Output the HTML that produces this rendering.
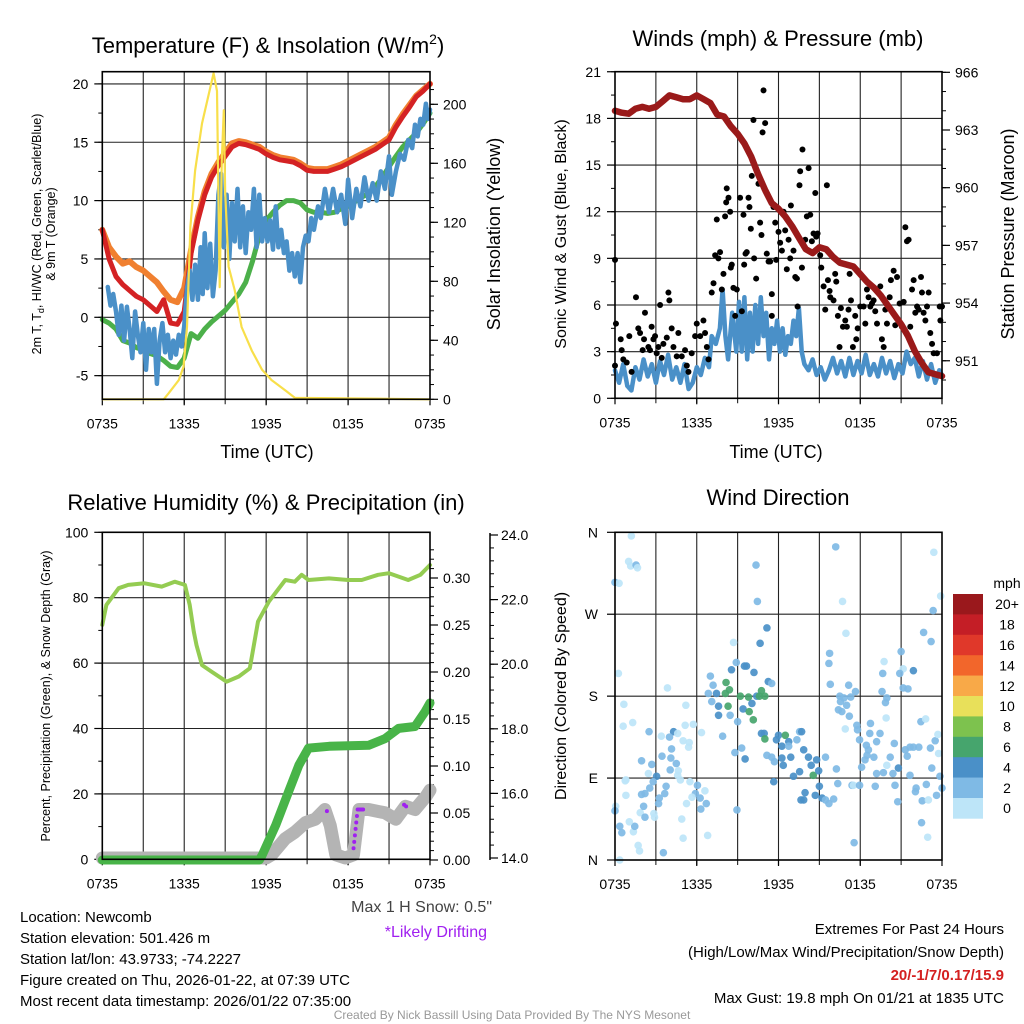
<!DOCTYPE html>
<html><head><meta charset="utf-8"><title>Newcomb Meteogram</title>
<style>
html,body{margin:0;padding:0;background:#fff;}
svg{display:block;font-family:"Liberation Sans",Arial,sans-serif;}
</style></head>
<body>
<svg id="fig" xmlns="http://www.w3.org/2000/svg" width="1024" height="1024" viewBox="0 0 1024 1024">
<rect x="0" y="0" width="1024" height="1024" fill="#fff"/>
<text x="268" y="53" font-size="22" text-anchor="middle">Temperature (F) &amp; Insolation (W/m<tspan dy="-9" font-size="14">2</tspan><tspan dy="9">)</tspan></text>
<text x="778" y="46" font-size="22" text-anchor="middle">Winds (mph) &amp; Pressure (mb)</text>
<text x="266" y="510" font-size="22" text-anchor="middle">Relative Humidity (%) &amp; Precipitation (in)</text>
<text x="778" y="505" font-size="22" text-anchor="middle">Wind Direction</text>
<text x="267" y="458" font-size="18" text-anchor="middle">Time (UTC)</text>
<text x="776" y="458" font-size="18" text-anchor="middle">Time (UTC)</text>
<text transform="translate(41,234) rotate(-90)" font-size="12.5" text-anchor="middle">2m T, T<tspan font-size="9" dy="3">d</tspan><tspan dy="-3">, HI/WC (Red, Green, Scarlet/Blue)</tspan></text>
<text transform="translate(55,234) rotate(-90)" font-size="12.5" text-anchor="middle">&amp; 9m T (Orange)</text>
<text transform="translate(500,234) rotate(-90)" font-size="18" text-anchor="middle">Solar Insolation (Yellow)</text>
<text transform="translate(566,234) rotate(-90)" font-size="16" text-anchor="middle">Sonic Wind &amp; Gust (Blue, Black)</text>
<text transform="translate(1014,234) rotate(-90)" font-size="18" text-anchor="middle">Station Pressure (Maroon)</text>
<text transform="translate(50,696) rotate(-90)" font-size="12.5" text-anchor="middle">Percent, Precipitation (Green), &amp; Snow Depth (Gray)</text>
<text transform="translate(566,696) rotate(-90)" font-size="16" text-anchor="middle">Direction (Colored By Speed)</text>
<text x="492" y="912" font-size="16" fill="#444" text-anchor="end">Max 1 H Snow: 0.5"</text>
<text x="487" y="937" font-size="16" fill="#a020f0" text-anchor="end">*Likely Drifting</text>
<g font-size="15">
<text x="20" y="922">Location: Newcomb</text>
<text x="20" y="943">Station elevation: 501.426 m</text>
<text x="20" y="964">Station lat/lon: 43.9733; -74.2227</text>
<text x="20" y="985">Figure created on Thu, 2026-01-22, at 07:39 UTC</text>
<text x="20" y="1006">Most recent data timestamp: 2026/01/22 07:35:00</text>
</g>
<g font-size="15" text-anchor="end">
<text x="1004" y="934">Extremes For Past 24 Hours</text>
<text x="1004" y="957">(High/Low/Max Wind/Precipitation/Snow Depth)</text>
<text x="1004" y="980" fill="#d42020" font-weight="bold">20/-1/7/0.17/15.9</text>
<text x="1004" y="1003">Max Gust: 19.8 mph On 01/21 at 1835 UTC</text>
</g>
<text x="512" y="1019" font-size="12" fill="#999" text-anchor="middle">Created By Nick Bassill Using Data Provided By The NYS Mesonet</text>
</svg>
<script>
const xTickLabels = ["0735","1335","1935","0135","0735"];
const xTickHours = [0,6,12,18,24];
const temp2m = [7.5,5.0,3.5,2.8,2.3,1.8,1.5,1.0,0.5,1.5,-0.5,-0.6,0.5,5.5,8.3,10.5,12.0,13.0,13.8,14.6,14.9,14.8,14.6,14.4,14.0,13.7,13.5,13.4,13.3,13.0,12.6,12.5,12.5,12.5,12.7,12.9,13.2,13.5,13.8,14.1,14.4,14.8,15.2,16.3,17.2,18.0,18.9,19.4,20.0];
const temp9m = [7.5,6.0,5.2,4.6,4.8,4.3,4.0,3.5,3.0,2.2,1.5,1.3,2.5,5.8,8.6,10.8,12.3,13.3,14.1,14.9,15.1,15.0,14.8,14.6,14.2,13.9,13.7,13.6,13.5,13.2,12.8,12.7,12.7,12.7,12.9,13.1,13.4,13.7,14.0,14.3,14.6,15.0,15.4,16.5,17.4,18.2,19.0,19.5,20.0];
const dewpoint = [-0.2,-0.5,-1.0,-2.0,-2.2,-2.6,-2.8,-3.1,-3.3,-3.7,-4.2,-4.3,-3.5,-1.4,-1.8,-1.0,-0.4,0.1,0.6,1.3,2.0,3.0,4.8,7.0,8.3,9.0,9.6,10.0,10.0,9.8,9.2,9.0,9.0,8.9,9.0,9.3,9.5,9.9,10.3,10.6,11.2,12.0,12.9,13.8,14.6,15.2,15.8,16.6,17.5];
const chillT = [0.4,0.6,0.8,1.0,1.2,1.4,1.6,1.8,2.0,2.2,2.4,2.6,2.8,3.0,3.2,3.4,3.6,3.8,4.0,4.2,4.4,4.6,4.8,5.0,5.2,5.4,5.6,5.8,6.0,6.2,6.4,6.6,6.8,7.0,7.2,7.35,7.5,7.7,7.9,8.1,8.3,8.5,8.7,8.9,9.1,9.3,9.5,9.7,9.9,10.1,10.3,10.5,10.7,10.9,11.1,11.3,11.5,11.7,11.9,12.1,12.3,12.5,12.7,12.9,13.1,13.3,13.5,13.7,13.9,14.1,14.3,14.5,14.7,14.9,15.1,15.3,15.5,15.8,16.0,16.3,16.6,16.9,17.2,17.5,17.8,18.0,18.3,18.6,18.9,19.2,19.5,19.8,20.1,20.4,20.7,21.0,21.2,21.5,21.8,22.1,22.4,22.7,22.9,23.1,23.3,23.5,23.7,23.85,24];
const chillV = [2.6,1.0,2.0,0.5,-1.5,1.0,-2.0,0.9,-1.0,-3.5,0.5,-1.5,-3.0,-0.5,-4.5,-1.0,-3.0,-1.0,-5.7,-2.0,-0.5,-3.0,-1.5,-3.5,-2.0,-3.2,-1.5,-2.5,-0.8,2.5,4.0,1.5,4.5,1.5,6.0,2.0,7.2,2.5,6.3,1.8,4.0,10.5,12.3,6.0,10.5,5.0,9.8,6.5,11.0,6.0,9.5,5.5,9.0,7.5,11.0,6.0,10.5,6.5,8.5,6.5,8.3,5.8,9.5,6.0,7.5,5.5,6.5,4.0,5.5,3.5,5.5,3.0,6.0,7.0,6.5,8.5,7.5,9.5,8.5,11.0,9.0,11.0,9.0,10.5,8.0,11.8,8.5,11.0,9.5,12.0,10.0,11.5,10.0,12.5,11.0,13.8,10.5,12.5,14.0,13.5,15.2,14.5,16.5,15.5,17.0,16.5,18.3,17.0,17.8];
const solT = [0,4.5,4.85,5.6,5.95,6.2,6.45,6.8,7.3,7.8,8.15,8.4,8.5,8.6,8.75,8.9,9.0,9.25,9.7,10.2,10.95,11.7,12.4,13.4,14.1,24];
const solV = [0,0,4,13,22,49,117,155,187,207,221,209,140,76,162,196,140,90,74,49,33,20,13,6,1,0];
const tempTicks = [-5,0,5,10,15,20];
const solTicks = [0,40,80,120,160,200];
const windT = [0,0.3,0.6,0.9,1.2,1.5,1.8,2.1,2.4,2.7,3.0,3.3,3.6,3.9,4.2,4.5,4.8,5.1,5.4,5.7,6.0,6.3,6.6,6.9,7.1,7.4,7.7,7.9,8.1,8.3,8.6,8.9,9.1,9.3,9.5,9.7,9.9,10.1,10.3,10.5,10.7,10.9,11.1,11.3,11.5,11.7,11.9,12.1,12.3,12.5,12.7,12.9,13.1,13.3,13.5,13.7,13.9,14.2,14.5,14.8,15.1,15.4,15.7,16.0,16.3,16.6,16.9,17.2,17.5,17.8,18.1,18.4,18.7,19.0,19.3,19.6,19.9,20.2,20.5,20.8,21.1,21.4,21.7,22.0,22.3,22.6,22.9,23.2,23.5,23.8,24.0];
const windV = [1.8,1.0,2.2,0.8,0.5,2.0,1.2,2.5,1.4,2.2,1.0,2.4,1.5,2.8,1.2,2.0,1.0,2.2,0.6,1.0,2.0,1.5,2.6,2.0,4.0,3.5,4.5,7.0,4.0,2.5,5.5,3.0,6.2,3.0,6.5,2.5,5.5,3.0,6.0,3.5,6.5,4.0,5.5,2.5,4.5,3.5,5.0,3.0,4.5,2.8,4.0,3.5,5.0,4.0,5.8,3.0,2.2,1.8,2.5,1.5,2.0,1.2,1.8,2.6,1.6,2.4,1.4,2.6,1.5,2.4,1.6,2.8,1.5,2.2,1.4,2.6,1.6,2.4,1.3,2.2,1.6,3.0,2.2,2.6,1.4,2.4,1.2,2.2,1.0,1.8,1.5];
const pressure = [964.0,963.9,963.85,964.1,964.2,964.1,964.2,964.5,964.8,964.7,964.6,964.6,964.8,964.6,964.4,963.8,963.7,963.2,962.8,962.3,961.6,960.7,959.9,959.2,958.9,958.5,958.0,957.4,956.8,956.6,956.9,956.8,956.4,956.1,956.0,955.9,955.5,955.1,954.8,954.4,953.9,953.4,952.9,952.3,951.5,950.9,950.4,950.3,950.2];
const gustT = [0,0.07,0,0.42,0.49,0.61,0.86,1.05,1.22,1.54,1.71,1.84,2.03,2.13,2.2,2.45,2.57,2.69,2.82,2.94,3.06,3.18,3.31,3.43,3.55,3.8,3.92,3.99,4.16,4.29,4.53,4.65,4.9,5.14,5.27,5.39,5.63,5.88,6.0,6.25,6.49,6.61,6.74,6.86,7.1,7.23,7.35,7.47,7.59,7.71,7.84,7.96,8.08,8.16,8.2,8.33,8.45,8.5,8.57,8.69,8.82,8.94,9.18,9.31,9.43,9.48,9.58,9.67,9.8,9.87,9.97,10.04,10.16,10.21,10.36,10.53,10.65,10.75,10.83,10.9,11.02,11.14,11.27,11.39,11.51,11.51,11.63,11.76,11.83,12.0,12.12,12.25,12.37,12.49,12.61,12.74,12.86,12.91,13.1,13.23,13.35,13.4,13.54,13.59,13.72,13.76,13.96,14.08,14.21,14.33,14.45,14.57,14.7,14.77,14.87,15.06,15.14,15.31,15.43,15.55,15.63,15.75,15.8,16.04,16.16,16.24,16.36,16.48,16.58,16.73,16.9,17.02,17.14,17.22,17.32,17.46,17.63,17.71,17.81,18.0,18.25,18.37,18.49,18.61,18.74,18.86,18.98,19.1,19.23,19.47,19.59,19.72,19.84,19.96,20.16,20.25,20.45,20.57,20.7,20.89,21.06,21.19,21.31,21.43,21.55,21.67,21.8,21.92,22.04,22.17,22.29,22.46,22.53,22.65,22.78,22.9,23.02,23.14,23.27,23.39,23.63,23.83,23.88,24.0];
const gustV = [8.9,4.8,2.1,3.8,3.1,2.5,2.3,4.0,1.7,6.5,4.5,4.2,3.1,3.8,5.5,3.3,3.1,4.6,3.8,4.0,2.9,3.3,6.0,2.6,3.5,3.9,6.8,6.3,4.5,3.3,2.7,4.2,2.7,3.1,2.1,1.7,2.9,4.0,4.8,4.0,5.0,4.2,3.3,2.5,6.8,7.4,9.2,11.5,9.0,9.4,7.0,8.0,11.7,12.6,13.5,12.9,12.0,8.4,8.6,7.1,5.3,7.0,12.9,5.6,11.8,8.6,9.3,9.4,12.9,12.3,10.9,14.3,17.9,9.0,7.7,13.8,11.3,10.5,17.1,19.8,17.7,9.3,8.8,8.8,6.7,5.3,12.3,11.3,8.9,10.7,10.0,9.5,12.0,10.8,8.3,10.2,9.0,12.4,9.5,7.8,7.7,5.9,13.7,14.6,8.4,16.0,10.2,11.7,14.8,11.8,10.1,10.6,13.2,10.4,10.6,9.2,8.4,7.2,5.7,13.7,7.6,6.9,6.5,6.3,8.0,7.5,5.3,3.3,5.8,4.6,5.0,4.6,5.7,8.0,6.3,3.3,5.3,3.8,4.5,5.9,5.9,4.8,7.0,6.5,5.9,6.1,6.3,5.6,4.8,7.2,3.8,3.3,5.7,4.8,6.5,7.6,8.2,4.7,7.8,6.1,4.6,6.2,11.0,10.1,10.2,4.6,7.0,7.6,5.5,5.9,5.7,7.8,6.8,5.5,5.0,5.9,6.8,4.2,3.5,2.9,2.9,5.9,5.0,5.9];
const windTicks = [0,3,6,9,12,15,18,21];
const presTicks = [951,954,957,960,963,966];
const rhT = [0,0.3,1.2,1.9,3.1,4.35,5.3,6.05,6.4,6.7,6.9,7.3,8.0,9.1,10.0,10.8,11.4,12.2,13.4,14.1,14.6,15.1,16.6,18.0,19.0,20.2,21.0,22.4,23.3,24];
const rhV = [71.7,77.8,82.9,83.9,84.4,83.4,84.9,83.9,77.8,69.6,65.5,59.4,57.4,54.3,55.9,58.4,72.7,78.8,85.4,84.9,87,85.4,85.9,85.4,85.4,87,87.5,85.4,87,90];
const precipT = [0,11.5,11.7,12.7,13.65,14.4,15.1,16.6,19.5,20.7,21.7,22.9,23.65,24];
const precipV = [0,0,0.005,0.037,0.073,0.101,0.119,0.121,0.122,0.129,0.14,0.142,0.158,0.167];
const snowT = [0,12.0,12.4,13.4,14.1,14.9,15.6,16.3,16.7,17.1,17.8,18.4,18.8,19.5,20.7,21.5,22.2,22.9,23.7,24];
const snowV = [14.0,14.0,14.1,14.6,14.8,15.1,15.2,15.5,15.0,14.1,14.0,14.1,15.5,15.5,15.4,15.2,15.6,15.5,15.9,16.1];
const driftT = [16.45,18.4,18.45,18.5,18.55,18.6,18.65,18.7,18.8,18.9,19.0,19.1,22.1,22.25];
const driftV = [15.45,14.3,14.5,14.7,14.9,15.1,15.3,15.5,15.5,15.5,15.5,15.5,15.65,15.6];
const rhTicks = [0,20,40,60,80,100];
const precipTicks = [0,0.05,0.10,0.15,0.20,0.25,0.30];
const precipTickLabels = ["0.00","0.05","0.10","0.15","0.20","0.25","0.30"];
const snowTicks = [14,16,18,20,22,24];
const snowTickLabels = ["14.0","16.0","18.0","20.0","22.0","24.0"];
const dirT = [1.2,1.0,1.15,1.55,1.65,0,0.3,10.35,16.2,23.4,10.45,16.7,23.9,23.35,11.15,16.95,22.65,23.2,8.7,10.65,15.75,15.7,21.0,19.75,21.15,21.9,19.65,20.9,8.9,9.5,9.65,8.55,10.2,0.25,7.0,7.2,11.25,11.5,8.15,8.4,15.8,17.15,21.15,21.5,3.85,6.85,7.45,8.1,9.2,9.8,10.4,10.6,11.0,10.75,17.65,19.6,16.5,16.8,17.3,19.95,7.1,7.6,8.3,9.4,10.05,9.85,19.85,16.55,0.65,5.2,17.0,16.4,16.65,7.6,8.45,9.0,10.15,17.2,19.9,22.45,22.8,1.3,0.6,5.15,5.75,2.5,4.3,3.4,4.0,4.6,5.0,5.45,5.4,6.35,7.9,10.75,10.95,11.0,12.0,12.5,11.85,12.75,12.25,13.55,13.7,13.35,12.75,16.9,17.75,18.75,17.8,18.7,19.45,17.95,18.45,19.2,20.5,21.3,21.9,21.65,22.3,23.15,23.5,23.7,23.75,1.95,2.7,4.15,4.1,4.5,4.05,4.65,4.6,3.05,2.45,0.75,2.8,2.55,2.2,1.95,1.85,2.1,2.2,2.85,2.9,3.25,3.2,3.75,3.65,4.8,5.5,6.05,5.9,6.25,5.65,5.25,6.6,6.7,6.3,8.8,9.3,9.55,8.95,11.65,11.15,11.5,11.7,12.25,12.35,12.9,13.1,13.55,13.85,14.2,14.4,14.55,14.8,14.95,15.0,14.7,13.95,13.85,13.65,15.2,15.45,15.45,15.7,16.05,16.25,16.35,17.4,17.5,17.95,18.1,18.35,18.5,18.6,19.0,19.1,19.2,19.7,19.95,20.2,20.4,20.55,20.75,20.8,21.45,21.65,22.05,22.1,22.55,22.85,23.0,23.25,23.6,23.85,24.0,22.5,22.95,17.55,3.55,0.35,0.05,0,0.35,0.5,1.35,1.45,1.05,0.8,0.8,1.7,1.8,4.9,5.0,6.8,3.45];
const dirDeg = [356,328,323,324,321,305,304,324,344,338,284,284,290,274,255,249,250,240,239,238,227,216,229,218,210,208,205,205,217,213,213,209,206,205,202,192,196,194,195,187,193,192,189,188,189,183,183,183,180,179,180,180,180,186,185,185,180,178,179,178,174,169,169,166,172,163,173,174,171,170,170,165,163,159,159,152,154,158,156,152,155,151,147,148,149,141,141,136,135,139,131,129,124,140,136,139,139,133,137,137,132,130,125,141,141,132,125,144,148,150,143,139,139,132,126,130,128,121,124,124,124,123,131,138,117,109,105,122,112,106,99,98,93,92,95,87,86,79,73,72,52,59,47,51,47,68,62,81,73,88,86,82,73,68,69,62,76,62,56,118,123,111,55,86,115,113,108,112,104,113,92,97,121,113,104,93,110,98,81,71,74,66,66,68,113,66,62,67,100,84,82,82,82,102,110,115,121,113,81,95,96,104,113,95,82,64,101,114,93,75,79,65,83,66,101,71,92,79,41,25,19,8,0,59,54,37,30,31,37,42,71,88,16,10,45,24,27,114];
const dirSpd = [1,1,1,3,1,3,1,3,3,1,3,1,1,3,5,1,3,3,1,5,3,3,3,1,1,5,3,3,3,5,5,5,5,1,3,3,5,3,7,7,3,3,3,3,1,3,5,7,7,7,5,7,7,7,3,3,3,3,3,3,3,5,7,5,5,7,3,3,1,1,3,3,3,5,3,3,7,3,1,3,1,1,1,1,1,3,5,1,3,1,1,1,1,1,3,5,5,7,5,7,5,5,5,3,5,3,3,1,3,3,3,3,3,3,3,3,3,3,3,3,3,3,3,1,1,3,3,3,3,3,3,1,1,5,1,1,3,3,3,3,1,3,3,1,1,3,3,3,3,1,1,3,3,3,1,1,1,3,3,3,3,5,3,5,3,3,3,5,5,5,5,5,5,5,5,7,5,5,5,5,5,5,5,5,3,3,3,3,3,3,3,1,3,3,3,3,3,3,3,3,3,1,3,3,3,3,5,3,3,3,3,3,3,1,3,3,3,3,3,1,3,3,1,1,3,3,3,1,3,1,1,1,1,1,1,1,1,3,3,3,1,3,1];
const dirTicks = [0,90,180,270,360];
const dirTickLabels = ["N","E","S","W","N"];
const cbarLabels = ["20+","18","16","14","12","10","8","6","4","2","0"];
const cbarColors = ["#9a181c","#c41e26","#e0382a","#f2662b","#f8a948","#e8e05a","#7dc24e","#46a56d","#4a90c8","#7fbae5","#bde5f8"];

const NS = "http://www.w3.org/2000/svg";
const svg = document.getElementById("fig");
function mk(tag, attrs, name, parent) {
  const el = document.createElementNS(NS, tag);
  
  
  for (const k in attrs) el.setAttribute(k, attrs[k]);
  (parent || svg).appendChild(el);
  return el;
}
function txt(x, y, s, attrs, name) {
  const el = mk("text", Object.assign({x: x, y: y, "font-size": 14}, attrs || {}), name);
  el.textContent = s;
  return el;
}
function pathD(ts, vs, xf, yf) {
  let d = "";
  for (let i = 0; i < ts.length; i++) d += (i ? "L" : "M") + xf(ts[i]).toFixed(1) + "," + yf(vs[i]).toFixed(1);
  return d;
}
function halfHours(n) { const a = []; for (let i = 0; i < n; i++) a.push(i * 0.5); return a; }
function speedColor(s) {
  if (s < 2) return "#bde5f8";
  if (s < 4) return "#7fbae5";
  if (s < 6) return "#4a90c8";
  if (s < 8) return "#46a56d";
  return "#7dc24e";
}
function frame(x0, y0, x1, y1, name) {
  mk("rect", {x: x0, y: y0, width: x1 - x0, height: y1 - y0, fill: "none", stroke: "#000", "stroke-width": 1.6}, name);
}
function vgrid(x0, x1, y0, y1, name) {
  for (let h = 3; h < 24; h += 3) {
    const x = x0 + (x1 - x0) * h / 24;
    mk("line", {x1: x, x2: x, y1: y0, y2: y1 + 5, stroke: "#222", "stroke-width": 1.1}, name + "-vgrid");
  }
  for (let i = 0; i < xTickHours.length; i++) {
    const x = x0 + (x1 - x0) * xTickHours[i] / 24;
    mk("line", {x1: x, x2: x, y1: y1, y2: y1 + 6, stroke: "#000", "stroke-width": 1.2}, name + "-x-tick");
    txt(x, y1 + 29, xTickLabels[i], {"text-anchor": "middle"}, name + "-x-tick-label");
  }
}
function hgrid(x0, x1, ys, name) {
  ys.forEach(y => mk("line", {x1: x0, x2: x1, y1: y, y2: y, stroke: "#222", "stroke-width": 1.1}, name + "-hgrid"));
}
function leftAxis(x, ticks, labels, yf, minorStep, lo, hi, name) {
  for (let v = lo; v <= hi + 1e-9; v += minorStep) mk("line", {x1: x - 4, x2: x, y1: yf(v), y2: yf(v), stroke: "#000"}, name + "-minor-tick");
  ticks.forEach((v, i) => {
    mk("line", {x1: x - 8, x2: x, y1: yf(v), y2: yf(v), stroke: "#000", "stroke-width": 1.2}, name + "-tick");
    txt(x - 14, yf(v) + 5, labels[i], {"text-anchor": "end"}, name + "-tick-label");
  });
}
function rightAxis(x, ticks, labels, yf, minorStep, lo, hi, name, gap) {
  for (let v = lo; v <= hi + 1e-9; v += minorStep) mk("line", {x1: x, x2: x + 4, y1: yf(v), y2: yf(v), stroke: "#000"}, name + "-minor-tick");
  ticks.forEach((v, i) => {
    mk("line", {x1: x, x2: x + 8, y1: yf(v), y2: yf(v), stroke: "#000", "stroke-width": 1.2}, name + "-tick");
    txt(x + (gap || 13), yf(v) + 5, labels[i], {"text-anchor": "start"}, name + "-tick-label");
  });
}

(function () {
  const X0 = 102.3, X1 = 430, Y0 = 71.7, Y1 = 399.3;
  const xs = t => X0 + t * (X1 - X0) / 24;
  const yL = v => 317.3 - v * 11.67;
  const yR = v => Y1 - v * 1.475;
  const hh = halfHours(temp2m.length);
  vgrid(X0, X1, Y0, Y1, "temperature");
  hgrid(X0, X1, tempTicks.map(yL), "temperature");
  leftAxis(X0, tempTicks, tempTicks.map(String), yL, 2.5, -5, 20, "temperature-y");
  rightAxis(X1, solTicks, solTicks.map(String), yR, 10, 0, 210, "insolation-y");
  mk("path", {d: pathD(hh, temp9m, xs, yL), fill: "none", stroke: "#f08030", "stroke-width": 6, "stroke-linejoin": "round", "stroke-linecap": "round"}, "temp-9m-line");
  mk("path", {d: pathD(hh, temp2m, xs, yL), fill: "none", stroke: "#d42224", "stroke-width": 5, "stroke-linejoin": "round", "stroke-linecap": "round"}, "temp-2m-line");
  mk("path", {d: pathD(hh, dewpoint, xs, yL), fill: "none", stroke: "#4cb04a", "stroke-width": 5, "stroke-linejoin": "round", "stroke-linecap": "round"}, "dewpoint-line");
  mk("path", {d: pathD(chillT, chillV, xs, yL), fill: "none", stroke: "#4a90c8", "stroke-width": 4.5, "stroke-linejoin": "round", "stroke-linecap": "round"}, "wind-chill-line");
  mk("path", {d: pathD(solT, solV, xs, yR), fill: "none", stroke: "#f8df4a", "stroke-width": 2.2, "stroke-linejoin": "round"}, "insolation-line");
  frame(X0, Y0, X1, Y1, "temperature-plot-frame");
})();

(function () {
  const X0 = 615, X1 = 942, Y0 = 71.7, Y1 = 398.3;
  const xs = t => X0 + t * (X1 - X0) / 24;
  const yW = v => Y1 - v * 15.55;
  const yP = p => 130 - (p - 963) * 19.23;
  vgrid(X0, X1, Y0, Y1, "winds");
  hgrid(X0, X1, windTicks.map(yW), "winds");
  leftAxis(X0, windTicks, windTicks.map(String), yW, 1.5, 0, 21, "wind-y");
  rightAxis(X1, presTicks, presTicks.map(String), yP, 1, 950, 966, "pressure-y");
  mk("path", {d: pathD(windT, windV, xs, yW), fill: "none", stroke: "#4a90c8", "stroke-width": 4.5, "stroke-linejoin": "round", "stroke-linecap": "round"}, "wind-speed-line");
  for (let i = 0; i < gustT.length; i++) {
    mk("circle", {cx: xs(gustT[i]), cy: yW(gustV[i]), r: 3, fill: "#000"}, "wind-gust-point");
  }
  mk("path", {d: pathD(halfHours(pressure.length), pressure, xs, yP), fill: "none", stroke: "#9a1a1a", "stroke-width": 6.5, "stroke-linejoin": "round", "stroke-linecap": "round"}, "pressure-line");
  frame(X0, Y0, X1, Y1, "winds-plot-frame");
})();

(function () {
  const X0 = 102.3, X1 = 430, Y0 = 532.3, Y1 = 859.3;
  const xs = t => X0 + t * (X1 - X0) / 24;
  const yL = v => Y1 - v * 3.27;
  const yP = v => 860 - v * 940;
  const yS = v => 858 - (v - 14) * 32.3;
  vgrid(X0, X1, Y0, Y1, "humidity");
  hgrid(X0, X1, rhTicks.map(yL), "humidity");
  leftAxis(X0, rhTicks, rhTicks.map(String), yL, 10, 0, 100, "humidity-y");
  rightAxis(X1, precipTicks, precipTickLabels, yP, 0.01, 0, 0.33, "precip-y", 13);
  mk("line", {x1: 490, x2: 490, y1: 533, y2: 860, stroke: "#000", "stroke-width": 1.5}, "snow-axis-line");
  rightAxis(490, snowTicks, snowTickLabels, yS, 0.4, 14, 24, "snow-y", 11);
  mk("path", {d: pathD(snowT, snowV, xs, yS), fill: "none", stroke: "#b4b4b4", "stroke-width": 13, "stroke-linejoin": "round", "stroke-linecap": "round"}, "snow-depth-line");
  mk("path", {d: pathD(precipT, precipV, xs, yP), fill: "none", stroke: "#48b448", "stroke-width": 9, "stroke-linejoin": "round", "stroke-linecap": "round"}, "precipitation-line");
  mk("path", {d: pathD(rhT, rhV, xs, yL), fill: "none", stroke: "#94cc52", "stroke-width": 4, "stroke-linejoin": "round", "stroke-linecap": "round"}, "humidity-line");
  for (let i = 0; i < driftT.length; i++) {
    mk("circle", {cx: xs(driftT[i]), cy: yS(driftV[i]), r: 2, fill: "#a020f0"}, "drifting-marker");
  }
  frame(X0, Y0, X1, Y1, "humidity-plot-frame");
})();

(function () {
  const X0 = 615, X1 = 942, Y0 = 532.3, Y1 = 860;
  const xs = t => X0 + t * (X1 - X0) / 24;
  const yD = d => Y1 - d * (Y1 - Y0) / 360;
  vgrid(X0, X1, Y0, Y1, "direction");
  hgrid(X0, X1, dirTicks.map(yD), "direction");
  dirTicks.forEach((d, i) => {
    mk("line", {x1: X0 - 8, x2: X0, y1: yD(d), y2: yD(d), stroke: "#000", "stroke-width": 1.2}, "direction-y-tick");
    txt(X0 - 17, yD(d) + 5, dirTickLabels[i], {"text-anchor": "end"}, "direction-y-tick-label");
  });
  for (let i = 0; i < dirT.length; i++) {
    mk("circle", {cx: xs(dirT[i]), cy: yD(dirDeg[i]), r: 3.8, fill: speedColor(dirSpd[i]), "fill-opacity": 0.92}, "direction-point");
  }
  frame(X0, Y0, X1, Y1, "direction-plot-frame");
  const cb = mk("g", {}, "speed-colorbar");
  const bx = 953, by = 594, bh = 20.4, bw = 30;
  txt(1007, 588, "mph", {"text-anchor": "middle"}, "colorbar-unit-label");
  cbarColors.forEach((c, i) => {
    mk("rect", {x: bx, y: by + i * bh, width: bw, height: bh + 0.3, fill: c}, "colorbar-box", cb);
    txt(1007, by + i * bh + bh / 2 + 5, cbarLabels[i], {"text-anchor": "middle"}, "colorbar-label");
  });
})();
</script>
</body></html>
